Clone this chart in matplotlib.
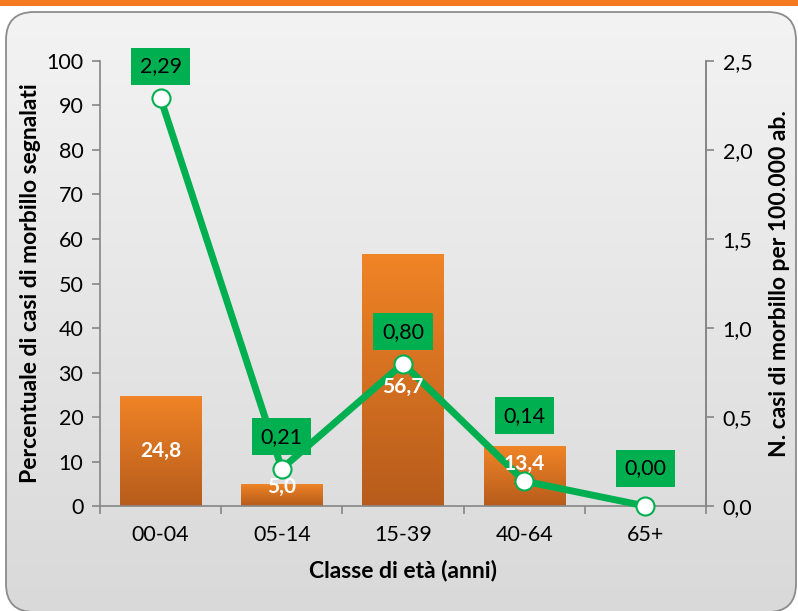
# Morbillo: percentuale casi e incidenza per classe di eta

import numpy as np
import matplotlib
matplotlib.use('Agg')
import matplotlib.pyplot as plt
from matplotlib.patches import FancyBboxPatch, Rectangle
from matplotlib.colors import LinearSegmentedColormap

classi = ['00-04', '05-14', '15-39', '40-64', '65+']
percentuale = [24.8, 5.0, 56.7, 13.4, 0.0]
incidenza = [2.29, 0.21, 0.80, 0.14, 0.00]
label_offsets = [23, 23, 23, 47, 27]  # pt above point
bar_label_shift = [0, 6, -5, 9, 0]    # pt

GREEN = '#00B050'
GRAY = '#868686'

plt.rcParams['font.family'] = ['Lato', 'DejaVu Sans']

fig = plt.figure(figsize=(7.98, 6.11), dpi=100)

# background frame with gradient
bg = fig.add_axes((0, 0, 1, 1))
bg.set_xlim(0, 798)
bg.set_ylim(611, 0)
bg.axis('off')
frame = FancyBboxPatch((6, 12), 790, 600, boxstyle='round,pad=0,rounding_size=28',
                       fc='none', ec='#8c8c8c', lw=1.3, zorder=3)
bg.add_patch(frame)
grad = np.linspace(0, 1, 256).reshape(-1, 1)
bgcmap = LinearSegmentedColormap.from_list('bg', ['#f3f3f3', '#d9d9d9'])
im = bg.imshow(grad, cmap=bgcmap, extent=(6, 796, 612, 12), aspect='auto', zorder=1)
im.set_clip_path(frame)
bg.add_patch(Rectangle((0, 0), 798, 6, fc='#F47920', ec='none', zorder=4))

ax = fig.add_axes((0.1253, 0.1718, 0.7594, 0.7284))
ax.patch.set_alpha(0)
x = np.arange(len(classi))
bars = ax.bar(x, percentuale, width=0.67, color='#E07020', zorder=2)

barcmap = LinearSegmentedColormap.from_list('bar', ['#B75C1C', '#F08426'])
for b in bars:
    if b.get_height() <= 0:
        continue
    gi = ax.imshow(np.linspace(0, 1, 128).reshape(-1, 1), cmap=barcmap, origin='lower',
                   extent=(b.get_x(), b.get_x() + b.get_width(), 0, b.get_height()),
                   aspect='auto', zorder=2)
    gi.set_clip_path(b)

ax.set_xlim(-0.5, 4.5)
ax.set_ylim(0, 100)
ax.set_yticks(range(0, 101, 10))
ax.set_xticks(x)
ax.set_xticklabels(classi)
ax.set_xticks(np.arange(-0.5, 5, 1), minor=True)
ax.tick_params(axis='x', which='major', length=0, pad=14, labelsize=15.5)
ax.tick_params(axis='x', which='minor', length=6, color=GRAY, width=1.2)
ax.tick_params(axis='y', length=6, color=GRAY, width=1.2, labelsize=15.5, pad=6)
for s in ['left', 'bottom', 'right']:
    ax.spines[s].set_color(GRAY)
    ax.spines[s].set_linewidth(1.2)
ax.spines['top'].set_visible(False)

ax.set_ylabel('Percentuale di casi di morbillo segnalati', fontsize=16.5, fontweight='bold', labelpad=4)
ax.set_xlabel('Classe di età (anni)', fontsize=16.5, fontweight='bold', labelpad=10)

ax2 = ax.twinx()
ax2.set_ylim(0, 2.5)
ax2.set_yticks(np.arange(0, 2.51, 0.5))
ax2.set_yticklabels(['{:.1f}'.format(v).replace('.', ',') for v in np.arange(0, 2.51, 0.5)])
ax2.tick_params(axis='y', length=6, color=GRAY, width=1.2, labelsize=15.5, pad=6)
for s in ['left', 'top', 'bottom']:
    ax2.spines[s].set_visible(False)
ax2.spines['right'].set_color(GRAY)
ax2.spines['right'].set_linewidth(1.2)
ax2.set_ylabel('N. casi di morbillo per 100.000 ab.', fontsize=16.5, fontweight='bold', labelpad=12)

ax2.plot(x, incidenza, color=GREEN, lw=5, marker='o', ms=13, mfc='white',
         mec=GREEN, mew=1.5, zorder=3, clip_on=False)

for i, v in enumerate(incidenza):
    ax2.annotate('{:.2f}'.format(v).replace('.', ','), (i, v), xytext=(0, label_offsets[i]),
                 textcoords='offset points', ha='center', va='center', fontsize=15.5,
                 bbox=dict(boxstyle='square,pad=0.4', fc=GREEN, ec='none'), zorder=5)

for i, p in enumerate(percentuale):
    if p <= 0:
        continue
    ax2.annotate('{:.1f}'.format(p).replace('.', ','), (i, p / 2), xycoords=ax.transData,
                 xytext=(0, bar_label_shift[i]), textcoords='offset points',
                 ha='center', va='center', color='white', fontsize=15, fontweight='bold', zorder=6)

fig.savefig('out.png', dpi=100)
